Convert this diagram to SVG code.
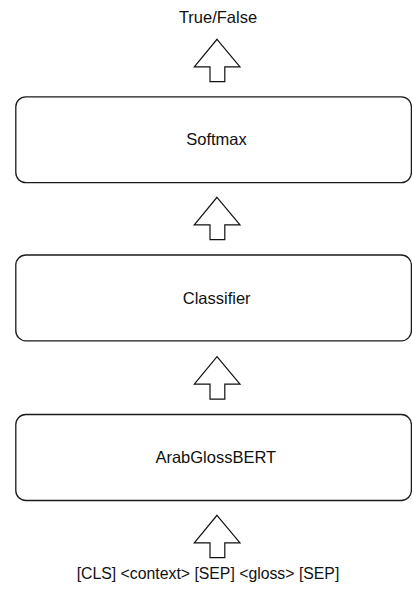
<svg xmlns="http://www.w3.org/2000/svg" width="412" height="589" viewBox="0 0 412 589">
<style>
.box{fill:#fff;stroke:#1a1a1a;stroke-width:1.3}
.lbl{font-family:"Liberation Sans",Arial,sans-serif;font-size:16.5px;fill:#111;text-anchor:middle}
.arr{fill:#fff;stroke:#111;stroke-width:1.2;stroke-linejoin:miter}
</style>
<defs>
<path id="up" d="M0,0 L23,27.5 L7.8,27.5 L7.8,42.4 L-7,42.4 L-7,27.5 L-22.7,27.5 Z"/>
</defs>
<rect width="412" height="589" fill="#fff"/>
<g id="connectors">
<use href="#up" class="arr" transform="translate(217,39.3)"/>
<use href="#up" class="arr" transform="translate(217,197.3)"/>
<use href="#up" class="arr" transform="translate(217,356.7)"/>
<use href="#up" class="arr" transform="translate(217,515.3)"/>
</g>
<g id="output"><text class="lbl" x="218" y="22.7">True/False</text></g>
<g id="softmax">
<rect class="box" x="15.8" y="96.8" width="395.6" height="85.8" rx="10" ry="10"/>
<text class="lbl" x="216.5" y="144.7">Softmax</text>
</g>
<g id="classifier">
<rect class="box" x="15.8" y="255" width="395.6" height="85.8" rx="10" ry="10"/>
<text class="lbl" x="216.7" y="304">Classifier</text>
</g>
<g id="arabglossbert">
<rect class="box" x="15.8" y="414.5" width="395.6" height="86" rx="10" ry="10"/>
<text class="lbl" x="215.8" y="462.7">ArabGlossBERT</text>
</g>
<g id="input"><text class="lbl" x="208" y="579" style="font-size:15.8px">[CLS] &lt;context&gt; [SEP] &lt;gloss&gt; [SEP]</text></g>
</svg>
